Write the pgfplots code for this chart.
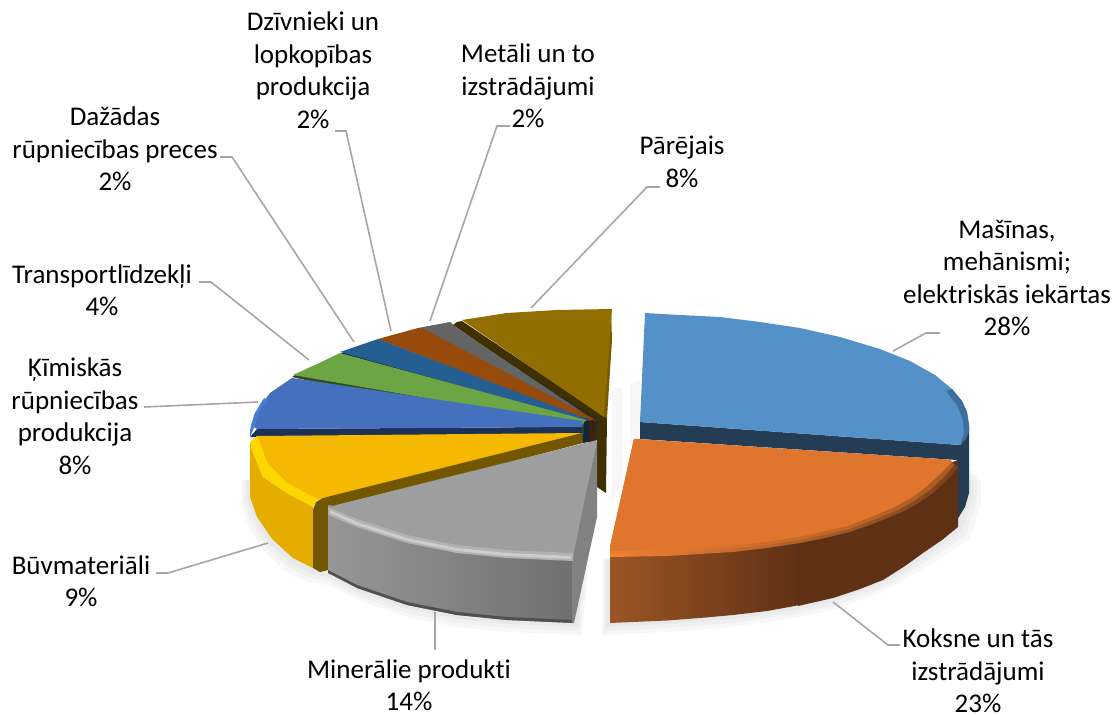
\documentclass[border=0pt]{standalone}
\usepackage{fontspec}
\setmainfont[Ligatures=NoCommon]{Carlito}
\usepackage{pgfplots}
\pgfplotsset{compat=1.18}
\definecolor{bt}{RGB}{84,145,201}\definecolor{bs}{RGB}{36,60,84}\definecolor{bb}{RGB}{62,110,155}
\definecolor{ot}{RGB}{224,117,45}\definecolor{osl}{RGB}{156,85,37}\definecolor{osd}{RGB}{95,49,20}\definecolor{ob}{RGB}{240,130,55}\definecolor{ob2}{RGB}{120,65,28}\definecolor{ob3}{RGB}{235,125,50}\definecolor{ob4}{RGB}{170,90,35}
\definecolor{gt}{RGB}{158,158,158}\definecolor{gl}{RGB}{205,205,205}\definecolor{gm}{RGB}{178,178,178}\definecolor{gsl}{RGB}{150,150,150}\definecolor{gsd}{RGB}{112,112,112}\definecolor{gf}{RGB}{130,130,130}\definecolor{gd}{RGB}{80,80,80}
\definecolor{yt}{RGB}{244,185,0}\definecolor{yb}{RGB}{255,215,0}\definecolor{ys}{RGB}{229,173,0}\definecolor{yf}{RGB}{115,87,0}
\definecolor{ct}{RGB}{68,112,189}\definecolor{cf}{RGB}{28,48,88}\definecolor{cb}{RGB}{70,125,215}
\definecolor{nt}{RGB}{107,165,68}\definecolor{nf}{RGB}{50,75,30}
\definecolor{dt}{RGB}{37,94,145}\definecolor{df}{RGB}{15,38,62}
\definecolor{rt}{RGB}{150,74,11}\definecolor{rf}{RGB}{66,32,5}
\definecolor{at}{RGB}{100,100,100}\definecolor{af}{RGB}{42,42,42}
\definecolor{lt}{RGB}{144,110,0}\definecolor{lf}{RGB}{64,48,0}\definecolor{ll}{RGB}{120,92,0}
\definecolor{lead}{RGB}{166,166,166}
\definecolor{sh}{RGB}{100,100,100}
\newcommand\poly[2]{\addplot[fill=#1,draw=none,forget plot] coordinates {#2} -- cycle;}
\newcommand\grad[3]{\addplot[left color=#1,right color=#2,draw=none,forget plot] coordinates {#3} -- cycle;}
\newcommand\soft[1]{\addplot[fill=sh,fill opacity=0.05,draw=none,forget plot] coordinates {#1} -- cycle;}
\newcommand\leadline[1]{\addplot[draw=lead,line width=1.6pt,forget plot] coordinates {#1};}
\begin{document}
\begin{tikzpicture}[x=1pt,y=1pt]
\useasboundingbox (0,0) rectangle (1112,715);
\begin{axis}[at={(0,0)},anchor=south west,scale only axis,width=1112pt,height=715pt,
 xmin=0,xmax=1112,ymin=0,ymax=715,y dir=reverse,axis lines=none,no marks,clip=false]
% soft shadows: yellow and grey
\soft{(247,480)(247,499)(254,520)(270,544)(290,562)(312,574)(328,577)(357,592)(407,609)(457,619)(507,624)(578,627)(585,560)(400,500)}
\soft{(245,480)(244,501)(251,523)(267,547)(287,566)(310,578)(328,581)(357,596)(407,613)(457,623)(507,628)(580,631)(587,560)(400,500)}
\soft{(242,480)(241,503)(248,526)(264,551)(284,570)(308,582)(328,585)(357,600)(407,617)(457,627)(507,632)(582,635)(589,560)(400,500)}
% soft shadows: orange and blue
\soft{(606,560)(606,627)(667,624)(733,619)(800,609)(833,602)(883,584)(925,557)(962,531)(973,497)(973,470)(900,480)}
\soft{(604,560)(604,631)(667,628)(733,623)(800,613)(833,606)(883,588)(927,561)(966,535)(977,500)(977,475)(900,480)}
\soft{(602,560)(602,635)(667,632)(733,627)(800,617)(833,610)(883,592)(929,565)(970,539)(981,503)(981,480)(900,480)}
% soft shadow between olive and blue
\soft{(612,390)(622,387)(622,480)(612,500)}
\soft{(630,385)(640,380)(640,440)(630,445)}
% leader lines
\leadline{(893,351)(926,333)(940,333)}
\leadline{(833,602)(888,645)(900,645)}
\leadline{(435,612)(435,650)}
\leadline{(268,543)(168,573)(156,573)}
\leadline{(258,402)(144,407)}
\leadline{(309,360)(211,282)(199,282)}
\leadline{(354,342)(232,157)(220,157)}
\leadline{(391,331)(346,131)(335,131)}
\leadline{(430,321)(497,126)(510,126)}
\leadline{(531,308)(647,187)(660,187)}
% Blue 28%
\poly{bs}{(640,422)(961,445)(969,425)(969,493)(965,507)(957,520)(957,460)(640,439)}
\poly{bt}{(640,422)(645,313)(680,315)(720,317)(760,322)(800,328)(840,337)(880,349)(910,361)(935,375)(952,389)(962,401)(967,412)(969,425)(968,432)(960,445)}
\poly{bb}{(952,389)(962,401)(967,412)(969,425)(969,432)(966,439)(960,445)(964,434)(963,420)(957,405)(946,391)}
% Orange 23%
\grad{osl}{osd}{(610,547)(800,520)(800,605)(767,611)(733,615)(700,618)(667,620.5)(610,623)}
\poly{osd}{(798,520)(958,460)(958,527)(942,540)(923,553)(905,566)(883,580)(860,589)(833,598)(798,606)}
\grad{ob}{ob2}{(634,439)(950,460)(958,467)(947,480)(933,493)(917,504)(900,513)(875,523)(850,532)(825,538)(800,543)(767,548)(733,552)(700,554)(667,556)(610,557)(610,547)}
\grad{ob3}{ob4}{(634,439)(950,460)(954,465)(944,477)(930,490)(914,501)(898,510)(873,520)(849,529)(824,535)(799,540)(766,545)(732,549)(700,551)(667,553)(610,554)(610,547)}
\poly{ot}{(634,439)(950,460)(952,462)(940,474)(926,487)(911,498)(895,507)(871,517)(847,526)(822,532)(798,537)(765,542)(732,546)(700,548)(667,550)(610,551)(610,547)}
% Olive 8%
\poly{lf}{(457,322)(462,321)(607,418)(606,493)(597,487)(597,440)(593,421)(453,325)}
\poly{ll}{(611,309)(612,340)(607,418)(603,416)}
\poly{lt}{(462,320)(507,313)(557,310)(612,309)(609,350)(604,417)}
% Grey-dark 2%
\poly{af}{(437,327)(450,324)(598,420)(597,441)(593,441)}
\poly{at}{(418,328)(450,322)(457,328)(594,420)(597,421)}
% Brown 2%
\poly{rf}{(418,330)(422,329)(594,419)(594,442)(589,442)}
\poly{rt}{(378,339)(418,328)(422,328)(594,419)(589,421)}
% Dark blue 2%
\poly{df}{(340,354)(345,352)(589,419)(589,442)(583,443)}
\poly{dt}{(340,352)(378,339)(590,420)(585,421)}
% Green 4%
\poly{nf}{(292,377)(295,375)(584,421)(583,443)}
\poly{nt}{(293,375)(317,364)(340,353)(586,420)(582,425)}
% Chem blue 8%
\poly{cf}{(250,437)(257,429)(582,427)(582,443)(257,437)}
\poly{ct}{(292,378)(270,393)(255,413)(251,425)(257,429)(582,427)(582,421)}
\poly{cb}{(264,398)(255,413)(250,430)(250,437)(254,428)(259,412)(268,400)}
% Yellow 9%
\poly{ys}{(250,442)(252,450)(263,477)(287,493)(313,507)(313,568)(293,558)(273,540)(257,517)(250,497)}
\poly{yt}{(257,436)(582,433)(582,435)(317,500)(287,483)(267,463)(260,443)}
\poly{yb}{(250,442)(257,436)(260,443)(267,463)(287,483)(317,499)(313,507)(287,493)(263,477)(252,450)}
\poly{yf}{(582,433)(583,443)(328,510)(328,570)(320,572)(313,568)(313,510)(316,502)(323,498)}
% Grey 14%
\grad{gsl}{gsd}{(328,505)(573,540)(573,623)(507,620)(457,615)(407,605)(357,588)(328,572)}
\poly{gd}{(328,570)(357,585)(407,602)(457,612)(507,617)(573,620)(574,623)(507,620)(457,615)(407,605)(357,588)(328,573)}
\poly{gf}{(597,440)(597,517)(574,623)(572,623)(572,555)}
\poly{gt}{(597,440)(573,556)(507,553)(457,548)(407,538)(357,522)(328,510)(336,505)}
\poly{gm}{(328,507)(357,519)(407,535)(457,545)(507,550)(573,553)(573,561)(507,558)(457,553)(407,543)(357,527)(328,515)}
\poly{gl}{(330,510)(357,522)(407,538)(457,548)(507,553)(571,556)(571,559)(507,556)(457,551)(407,541)(357,525)(330,513)}
% labels
\node[align=center,font=\fontsize{27}{32.5}\selectfont] at (axis cs:1007,278) {Mašīnas,\\mehānismi;\\elektriskās iekārtas\\28\%};
\node[align=center,font=\fontsize{27}{32.5}\selectfont] at (axis cs:978,671) {Koksne un tās\\izstrādājumi\\23\%};
\node[align=center,font=\fontsize{27}{32.5}\selectfont] at (axis cs:409,685) {Minerālie produkti\\14\%};
\node[align=center,font=\fontsize{27}{32.5}\selectfont] at (axis cs:81,581) {Būvmateriāli\\9\%};
\node[align=center,font=\fontsize{27}{32.5}\selectfont] at (axis cs:75,416) {Ķīmiskās\\rūpniecības\\produkcija\\8\%};
\node[align=center,font=\fontsize{27}{32.5}\selectfont] at (axis cs:102,290) {Transportlīdzekļi\\4\%};
\node[align=center,font=\fontsize{27}{32.5}\selectfont] at (axis cs:115,149) {Dažādas\\rūpniecības preces\\2\%};
\node[align=center,font=\fontsize{27}{32.5}\selectfont] at (axis cs:313,70) {Dzīvnieki un\\lopkopības\\produkcija\\2\%};
\node[align=center,font=\fontsize{27}{32.5}\selectfont] at (axis cs:528,86) {Metāli un to\\izstrādājumi\\2\%};
\node[align=center,font=\fontsize{27}{32.5}\selectfont] at (axis cs:682,162) {Pārējais\\8\%};
\end{axis}
\end{tikzpicture}
\end{document}
